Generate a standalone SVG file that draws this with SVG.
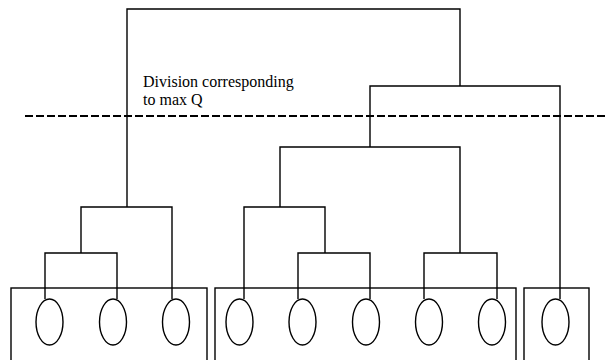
<svg xmlns="http://www.w3.org/2000/svg" width="605" height="360" viewBox="0 0 605 360">
<style>
.ln{fill:none;stroke:#000;stroke-width:1.4}
.bx{fill:none;stroke:#000;stroke-width:1.4}
.el{fill:#fff;stroke:#000;stroke-width:1.4}
</style>
<rect width="605" height="360" fill="#fff"/>
<g id="connectors">
<path class="ln" d="M127,207 V9 H460 V86"/>
<path class="ln" d="M370,147 V86 H560 V299"/>
<path class="ln" d="M280,207 V147 H460 V253"/>
<path class="ln" d="M81,253 V207 H172 V299"/>
<path class="ln" d="M45,299 V253 H117 V299"/>
<path class="ln" d="M244,299 V207 H325 V253"/>
<path class="ln" d="M298,299 V253 H370 V299"/>
<path class="ln" d="M424,299 V253 H497 V299"/>
</g>
<line x1="25" y1="116" x2="605" y2="116" stroke="#000" stroke-width="2" stroke-dasharray="8,3"/>
<g id="label" font-family="'Liberation Serif', 'Times New Roman', 'DejaVu Serif', serif" font-size="16" fill="#000"><text x="143" y="87">Division corresponding</text><text x="143" y="105">to max Q</text></g>
<g id="community1"><rect class="bx" x="11" y="288" width="196" height="80"/></g>
<g id="community2"><rect class="bx" x="215" y="288" width="301" height="80"/></g>
<g id="community3"><rect class="bx" x="524" y="288" width="65" height="80"/></g>
<g id="n1"><ellipse class="el" cx="49.5" cy="322" rx="13.5" ry="23"/></g>
<g id="n2"><ellipse class="el" cx="113" cy="322" rx="13.5" ry="23"/></g>
<g id="n3"><ellipse class="el" cx="176" cy="322" rx="13.5" ry="23"/></g>
<g id="n4"><ellipse class="el" cx="239.5" cy="322" rx="13.5" ry="23"/></g>
<g id="n5"><ellipse class="el" cx="302.5" cy="322" rx="13.5" ry="23"/></g>
<g id="n6"><ellipse class="el" cx="366" cy="322" rx="13.5" ry="23"/></g>
<g id="n7"><ellipse class="el" cx="429" cy="322" rx="13.5" ry="23"/></g>
<g id="n8"><ellipse class="el" cx="492" cy="322" rx="13.5" ry="23"/></g>
<g id="n9"><ellipse class="el" cx="555.5" cy="322" rx="13.5" ry="23"/></g>
</svg>
